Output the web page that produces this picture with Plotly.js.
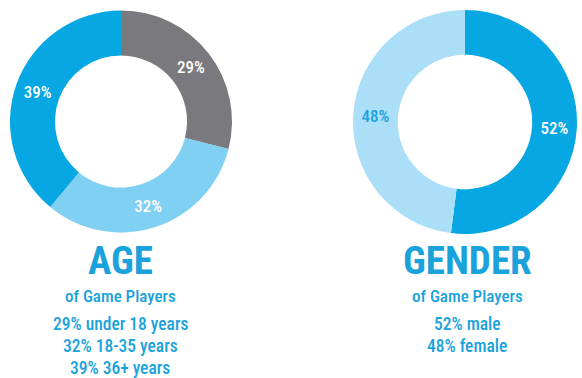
<!DOCTYPE html>
<html><head><meta charset="utf-8">
<script src="https://cdn.plot.ly/plotly-3.0.1.min.js"></script>
<style>html,body{margin:0;padding:0;background:#fff}#chart{width:582px;height:378px}</style>
</head><body><div id="chart"></div>
<script>
const ageLabels = ["under 18 years", "18-35 years", "36+ years"];
const ageValues = [29, 32, 39];
const ageLegendText = ["29% under 18 years", "32% 18-35 years", "39% 36+ years"];
const genderLabels = ["male", "female"];
const genderValues = [52, 48];
const genderLegendText = ["52% male", "48% female"];
const titles = ["AGE", "GENDER"];
const subtitle = "of Game Players";

const FONT = "'Roboto Condensed', Roboto, sans-serif";
const BLUE = "#07a7e3";
const TXT = "#1aa2dc";

const pct = v => v.map(x => x + "%");

const data = [
  {
    type: "pie", hole: 0.595, sort: false, direction: "clockwise", rotation: 0,
    labels: ageLabels, values: ageValues, text: pct(ageValues),
    textinfo: "text", textposition: "inside", insidetextorientation: "horizontal",
    marker: {colors: ["#7a7a7e", "#80d0f3", BLUE], line: {width: 0}},
    textfont: {family: FONT, size: 17, color: ["#ffffff", "#ffffff", "#ffffff"], weight: 500},
    domain: {x: [10/582, 232/582], y: [1 - 233/378, 1 - 10/378]},
    hoverinfo: "label+percent", showlegend: false
  },
  {
    type: "pie", hole: 0.6, sort: false, direction: "clockwise", rotation: 0,
    labels: genderLabels, values: genderValues, text: pct(genderValues),
    textinfo: "text", textposition: "inside", insidetextorientation: "horizontal",
    marker: {colors: [BLUE, "#abdff7"], line: {width: 0}},
    textfont: {family: FONT, size: 17, color: ["#ffffff", TXT], weight: 500},
    domain: {x: [353/582, 577/582], y: [1 - 234/378, 1 - 10/378]},
    hoverinfo: "label+percent", showlegend: false
  }
];

const annotations = [];
function addBlock(cx, title, lines) {
  annotations.push({x: cx, y: 1 - 261/378, xref: "paper", yref: "paper", text: "<b>" + title + "</b>",
    showarrow: false, font: {family: FONT, size: 39, color: TXT}, xanchor: "center", yanchor: "middle", borderpad: 0});
  annotations.push({x: cx, y: 1 - 296/378, xref: "paper", yref: "paper", text: subtitle,
    showarrow: false, font: {family: FONT, size: 17, color: TXT, weight: 500}, xanchor: "center", yanchor: "middle", borderpad: 0});
  lines.forEach((t, i) => {
    annotations.push({x: cx, y: 1 - (324 + i*22)/378, xref: "paper", yref: "paper", text: t,
      showarrow: false, font: {family: FONT, size: 17.5, color: TXT, weight: 500}, xanchor: "center", yanchor: "middle", borderpad: 0});
  });
}
addBlock(120/582, titles[0], ageLegendText);
addBlock(467/582, titles[1], genderLegendText);

Plotly.newPlot("chart", data, {
  width: 582, height: 378, margin: {l: 0, r: 0, t: 0, b: 0},
  paper_bgcolor: "#ffffff", plot_bgcolor: "#ffffff",
  annotations: annotations
}, {displayModeBar: false, staticPlot: true});
</script></body></html>
